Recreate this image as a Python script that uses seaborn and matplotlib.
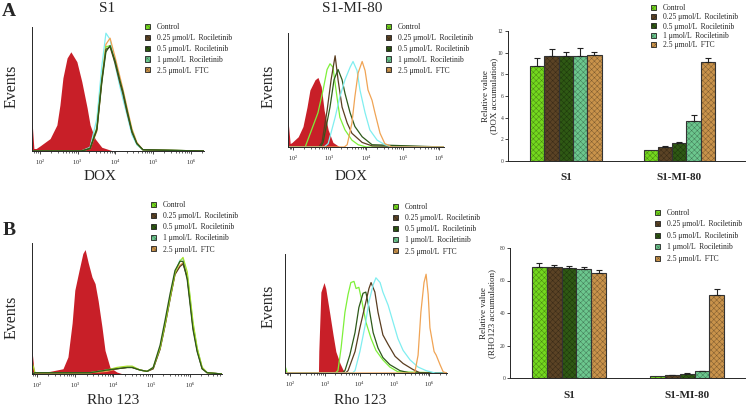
import matplotlib
matplotlib.use('Agg')
import matplotlib.pyplot as plt
from matplotlib.colors import to_rgba
from matplotlib.patches import Patch
from matplotlib.transforms import blended_transform_factory
import numpy as np
import pandas as pd
import seaborn as sns

W, H = 746, 409

TREATMENTS = ['Control', '0.25 μmol/L  Rociletinib', '0.5 μmol/L  Rociletinib',
              '1 μmol/L  Rociletinib', '2.5 μmol/L  FTC']
CELLS = ['S1', 'S1-MI-80']
BAR_COLORS = ['#74d81e', '#5b4325', '#2f5914', '#6cc78e', '#c9934b']
LINE_COLORS = ['#7ef03a', '#5a3d20', '#2e5a1a', '#80eef0', '#f0a455']
RED = '#c81f28'

# bar values (relative accumulation)
dox_s1 = [8.8, 9.7, 9.7, 9.65, 9.75]
dox_s1_err = [0.7, 0.65, 0.4, 0.8, 0.35]
dox_mi = [1.0, 1.3, 1.65, 3.65, 9.15]
dox_mi_err = [0.0, 0.12, 0.1, 0.6, 0.4]

rho_s1 = [68.5, 68.5, 68.0, 67.0, 64.5]
rho_s1_err = [2.0, 1.2, 0.7, 1.5, 2.0]
rho_mi = [1.0, 1.8, 2.7, 4.2, 50.8]
rho_mi_err = [0.0, 0.3, 0.3, 0.3, 4.0]

# flow histograms: x = log10 fluorescence, y = fraction of the axis height
# A / S1 (DOX)
a_s1_red_x = [1.79, 1.80, 1.84, 1.90, 2.00, 2.27, 2.45, 2.53, 2.61, 2.72, 2.82, 2.98, 3.11, 3.25, 3.33, 3.46, 3.64, 3.94, 6.35]
a_s1_red_y = [0.25, 0.20, 0.02, 0.02, 0.04, 0.10, 0.21, 0.37, 0.59, 0.75, 0.80, 0.72, 0.56, 0.35, 0.21, 0.10, 0.03, 0.0, 0.0]
a_s1_x = [1.79, 3.10, 3.33, 3.51, 3.64, 3.75, 3.86, 3.99, 4.12, 4.20, 4.31, 4.44, 4.57, 4.73, 6.35]
a_s1_ctrl = [0, 0, 0.02, 0.19, 0.58, 0.84, 0.85, 0.72, 0.56, 0.47, 0.32, 0.16, 0.06, 0.01, 0]
a_s1_r025 = [0, 0, 0.02, 0.18, 0.57, 0.82, 0.84, 0.71, 0.55, 0.46, 0.31, 0.15, 0.06, 0.01, 0]
a_s1_r05 = [0, 0, 0.02, 0.17, 0.55, 0.80, 0.85, 0.73, 0.57, 0.48, 0.33, 0.16, 0.06, 0.01, 0]
a_s1_r1 = [0, 0, 0.03, 0.26, 0.68, 0.95, 0.90, 0.70, 0.52, 0.42, 0.29, 0.13, 0.05, 0.01, 0]
a_s1_ftc = [0, 0, 0.02, 0.16, 0.56, 0.86, 0.91, 0.76, 0.60, 0.50, 0.35, 0.18, 0.07, 0.01, 0]

# A / S1-MI-80 (DOX)
a_mi_red_x = [1.86, 1.87, 1.92, 1.97, 2.14, 2.27, 2.38, 2.46, 2.60, 2.68, 2.77, 2.85, 2.96, 3.09, 3.28, 6.13]
a_mi_red_y = [0.26, 0.20, 0.03, 0.04, 0.09, 0.18, 0.35, 0.50, 0.59, 0.61, 0.53, 0.32, 0.15, 0.04, 0.0, 0.0]
a_mi_ctrl_x = [1.86, 2.33, 2.68, 2.82, 2.93, 3.01, 3.09, 3.20, 3.28, 3.42, 3.61, 3.78, 4.00, 6.13]
a_mi_ctrl_y = [0, 0, 0.30, 0.50, 0.68, 0.73, 0.70, 0.44, 0.26, 0.15, 0.06, 0.02, 0, 0]
a_mi_r025_x = [1.86, 2.70, 2.79, 2.93, 3.04, 3.15, 3.23, 3.34, 3.48, 3.61, 3.89, 4.16, 6.13]
a_mi_r025_y = [0, 0, 0.04, 0.32, 0.59, 0.80, 0.59, 0.35, 0.21, 0.12, 0.04, 0.01, 0]
a_mi_r05_x = [1.86, 2.75, 2.82, 3.01, 3.12, 3.23, 3.34, 3.42, 3.56, 3.69, 3.89, 4.16, 6.13]
a_mi_r05_y = [0, 0, 0.04, 0.35, 0.59, 0.68, 0.59, 0.47, 0.30, 0.18, 0.09, 0.02, 0]
a_mi_r1_x = [1.86, 2.85, 2.96, 3.15, 3.28, 3.42, 3.56, 3.64, 3.75, 3.83, 3.97, 4.10, 4.30, 4.51, 4.70, 6.13]
a_mi_r1_y = [0, 0, 0.03, 0.26, 0.44, 0.59, 0.70, 0.75, 0.67, 0.50, 0.30, 0.15, 0.06, 0.02, 0, 0]
a_mi_ftc_x = [1.86, 3.40, 3.48, 3.61, 3.69, 3.78, 3.89, 3.97, 4.05, 4.16, 4.24, 4.38, 4.51, 4.70, 6.13]
a_mi_ftc_y = [0, 0, 0.02, 0.21, 0.44, 0.65, 0.75, 0.67, 0.50, 0.41, 0.30, 0.12, 0.03, 0, 0]

# B / S1 (Rho 123)
b_s1_red_x = [1.87, 1.88, 1.93, 2.34, 2.68, 2.81, 2.92, 2.99, 3.10, 3.20, 3.26, 3.34, 3.44, 3.52, 3.60, 3.70, 3.78, 3.91, 4.09, 4.25, 6.84]
b_s1_red_y = [0.20, 0.15, 0.01, 0.02, 0.04, 0.13, 0.39, 0.64, 0.79, 0.92, 0.95, 0.85, 0.74, 0.69, 0.56, 0.36, 0.18, 0.05, 0.015, 0, 0]
b_s1_x = [1.87, 1.88, 1.95, 3.39, 3.83, 4.09, 4.36, 4.49, 4.70, 4.88, 5.04, 5.22, 5.35, 5.48, 5.61, 5.74, 5.82, 5.93, 6.01, 6.08, 6.19, 6.32, 6.45, 6.84]
b_s1_ctrl = [0, 0.08, 0.01, 0.01, 0.03, 0.05, 0.06, 0.06, 0.03, 0.02, 0.05, 0.20, 0.38, 0.58, 0.77, 0.86, 0.89, 0.78, 0.58, 0.40, 0.20, 0.05, 0.01, 0]
b_s1_r025 = [0, 0, 0.01, 0.01, 0.03, 0.04, 0.05, 0.05, 0.03, 0.02, 0.04, 0.19, 0.37, 0.57, 0.76, 0.82, 0.84, 0.74, 0.54, 0.36, 0.18, 0.04, 0.01, 0]
b_s1_r05 = [0, 0, 0.01, 0.01, 0.03, 0.04, 0.05, 0.05, 0.03, 0.02, 0.05, 0.22, 0.41, 0.61, 0.79, 0.86, 0.86, 0.72, 0.52, 0.34, 0.17, 0.04, 0.01, 0]
b_s1_r1 = [0, 0, 0.01, 0.01, 0.03, 0.04, 0.05, 0.05, 0.03, 0.02, 0.04, 0.19, 0.37, 0.57, 0.77, 0.87, 0.88, 0.77, 0.57, 0.39, 0.20, 0.05, 0.01, 0]
b_s1_ftc = [0, 0, 0.01, 0.01, 0.02, 0.04, 0.05, 0.05, 0.03, 0.02, 0.04, 0.19, 0.37, 0.57, 0.76, 0.83, 0.85, 0.75, 0.55, 0.37, 0.19, 0.05, 0.01, 0]

# B / S1-MI-80 (Rho 123)
b_mi_red_x = [2.82, 2.83, 2.89, 2.98, 3.03, 3.15, 3.24, 3.32, 3.44, 3.52, 3.61]
b_mi_red_y = [0, 0.18, 0.68, 0.76, 0.71, 0.49, 0.32, 0.18, 0.08, 0.03, 0]
b_mi_ctrl_x = [1.86, 1.87, 1.92, 3.30, 3.38, 3.47, 3.58, 3.67, 3.75, 3.84, 3.90, 3.98, 4.07, 4.18, 4.33, 4.47, 4.67, 4.87, 5.10, 6.51]
b_mi_ctrl_y = [0, 0.05, 0, 0, 0.02, 0.21, 0.51, 0.66, 0.76, 0.77, 0.71, 0.72, 0.60, 0.43, 0.29, 0.19, 0.11, 0.05, 0.01, 0]
b_mi_r025_x = [1.86, 3.60, 3.67, 3.87, 4.01, 4.16, 4.27, 4.33, 4.44, 4.53, 4.67, 4.82, 5.02, 5.25, 5.53, 5.74, 6.51]
b_mi_r025_y = [0, 0, 0.02, 0.18, 0.38, 0.57, 0.71, 0.76, 0.68, 0.51, 0.32, 0.24, 0.14, 0.08, 0.03, 0, 0]
b_mi_r05_x = [1.86, 3.50, 3.58, 3.72, 3.87, 3.98, 4.10, 4.18, 4.27, 4.39, 4.53, 4.67, 4.87, 5.16, 5.45, 6.51]
b_mi_r05_y = [0, 0, 0.02, 0.15, 0.34, 0.55, 0.67, 0.68, 0.55, 0.34, 0.21, 0.13, 0.07, 0.02, 0, 0]
b_mi_r1_x = [1.86, 3.80, 3.87, 4.01, 4.16, 4.27, 4.39, 4.47, 4.59, 4.67, 4.82, 4.96, 5.10, 5.25, 5.45, 5.68, 5.91, 6.17, 6.51]
b_mi_r1_y = [0, 0, 0.02, 0.18, 0.40, 0.60, 0.74, 0.80, 0.76, 0.68, 0.57, 0.43, 0.29, 0.19, 0.11, 0.05, 0.02, 0, 0]
b_mi_ftc_x = [1.86, 5.55, 5.59, 5.68, 5.76, 5.85, 5.91, 5.97, 6.02, 6.14, 6.20, 6.31, 6.40, 6.51]
b_mi_ftc_y = [0, 0, 0.01, 0.15, 0.51, 0.76, 0.83, 0.66, 0.38, 0.18, 0.15, 0.07, 0.01, 0]

sns.set_style('ticks')
plt.rcParams['font.family'] = ['Liberation Serif', 'DejaVu Serif']
plt.rcParams['mathtext.fontset'] = 'stix'
plt.rcParams['hatch.linewidth'] = 0.35

fig = plt.figure(figsize=(W / 100, H / 100), dpi=100)


def px_axes(left, top, right, bottom):
    return fig.add_axes([left / W, 1 - bottom / H, (right - left) / W, (bottom - top) / H])


def fig_text(px, py, s, **kw):
    fig.text(px / W, 1 - py / H, s, ha='center', va='center', **kw)


def texture(patch, color):
    # checkered look: hatch in a darker shade of the fill, outline stays dark
    patch.set_hatch('xxxxxx')
    shade = np.array(to_rgba(color)) * [0.62, 0.62, 0.62, 1]
    patch._hatch_color = tuple(shade)
    patch.stale = True


def add_legend(ax, left, top, spacing=0.38):
    handles = []
    for c in BAR_COLORS:
        p = Patch(facecolor=c, edgecolor='#222222', lw=0.6)
        texture(p, c)
        handles.append(p)
    ax.legend(handles, TREATMENTS, loc='upper left', bbox_to_anchor=(left / W, 1 - top / H),
              bbox_transform=fig.transFigure, frameon=False, fontsize=5.5,
              handlelength=0.65, handleheight=0.65, handletextpad=0.9,
              labelspacing=spacing, borderpad=0, borderaxespad=0)


def draw_hist(ax, xlim, red_x, red_y, curves, xlabel, label_xy, ylabel_xy):
    ax.fill_between(10 ** np.array(red_x), red_y, color=RED, lw=0, zorder=1)
    for x, y, c in curves:
        ax.plot(10 ** np.array(x), y, color=c, lw=0.9, zorder=2)
    ax.set_xscale('log')
    ax.set_xlim(10 ** xlim[0], 10 ** xlim[1])
    ax.set_ylim(0, 1)
    ax.set_yticks([])
    sns.despine(ax=ax)
    for s in ax.spines.values():
        s.set_linewidth(0.7)
    ax.tick_params(axis='x', which='major', length=2.5, width=0.6, pad=2, labelsize=4.5)
    ax.tick_params(axis='x', which='minor', length=1.3, width=0.5)
    ax.set_xlabel(xlabel, fontsize=11)
    ax.xaxis.set_label_coords(label_xy[0] / W, 1 - label_xy[1] / H, transform=fig.transFigure)
    ax.xaxis.label.set_va('center')
    ax.set_ylabel('Events', fontsize=11.5)
    ax.yaxis.set_label_coords(ylabel_xy[0] / W, 1 - ylabel_xy[1] / H, transform=fig.transFigure)
    ax.yaxis.label.set_va('center')


def draw_bars(ax, s1, s1_err, mi, mi_err, ymax, ystep, ylabel, xlim, label_x):
    df = pd.DataFrame({'cell': [CELLS[0]] * 5 + [CELLS[1]] * 5,
                       'treatment': TREATMENTS * 2,
                       'value': s1 + mi})
    sns.barplot(data=df, x='cell', y='value', hue='treatment', hue_order=TREATMENTS,
                palette=BAR_COLORS, saturation=1, width=0.63, edgecolor='#333333',
                linewidth=0.8, errorbar=None, legend=False, ax=ax)
    for cont, color, e1, e2 in zip(ax.containers, BAR_COLORS, s1_err, mi_err):
        for bar, e in zip(cont, (e1, e2)):
            texture(bar, color)
            if e > 0:
                ax.errorbar(bar.get_x() + bar.get_width() / 2, bar.get_height(),
                            yerr=[[0], [e]], fmt='none', ecolor='#222222',
                            elinewidth=0.8, capsize=2, capthick=0.8, zorder=3)
    ax.set_xlim(*xlim)
    ax.set_ylim(0, ymax)
    ax.set_yticks(np.arange(0, ymax + 0.1, ystep))
    sns.despine(ax=ax)
    for s in ax.spines.values():
        s.set_linewidth(0.7)
    ax.tick_params(axis='y', length=2, width=0.6, pad=1.5, labelsize=4, labelcolor='#333333')
    ax.tick_params(axis='x', length=0, pad=9, labelsize=8)
    for t in ax.get_xticklabels():
        t.set_fontweight('bold')
    ax.set_xlabel('')
    ax.set_ylabel(ylabel, fontsize=6.5, linespacing=1.1)
    ax.yaxis.set_label_coords(label_x / W, 0.5,
                              transform=blended_transform_factory(fig.transFigure, ax.transAxes))
    ax.yaxis.label.set_va('center')


# ---- row A ----
ax1 = px_axes(32, 27, 204, 151)
draw_hist(ax1, (1.79, 6.35), a_s1_red_x, a_s1_red_y,
          [(a_s1_x, a_s1_r1, LINE_COLORS[3]), (a_s1_x, a_s1_ftc, LINE_COLORS[4]),
           (a_s1_x, a_s1_ctrl, LINE_COLORS[0]), (a_s1_x, a_s1_r025, LINE_COLORS[1]),
           (a_s1_x, a_s1_r05, LINE_COLORS[2])], 'DOX', (100, 176), (12, 86))
add_legend(ax1, 145, 23)

ax2 = px_axes(288, 33, 444, 147)
draw_hist(ax2, (1.86, 6.13), a_mi_red_x, a_mi_red_y,
          [(a_mi_ctrl_x, a_mi_ctrl_y, LINE_COLORS[0]), (a_mi_r025_x, a_mi_r025_y, LINE_COLORS[1]),
           (a_mi_r05_x, a_mi_r05_y, LINE_COLORS[2]), (a_mi_r1_x, a_mi_r1_y, LINE_COLORS[3]),
           (a_mi_ftc_x, a_mi_ftc_y, LINE_COLORS[4])], 'DOX', (351, 176), (269, 86))
add_legend(ax2, 386, 23)

ax3 = px_axes(508, 31, 745, 161)
draw_bars(ax3, dox_s1, dox_s1_err, dox_mi, dox_mi_err, 12, 2,
          'Relative value\n(DOX accumulation)', (-0.51, 1.58), 490)
add_legend(ax3, 651, 4, spacing=0.17)

# ---- row B ----
ax4 = px_axes(32, 243, 222, 374)
draw_hist(ax4, (1.87, 6.84), b_s1_red_x, b_s1_red_y,
          [(b_s1_x, b_s1_r1, LINE_COLORS[3]), (b_s1_x, b_s1_ftc, LINE_COLORS[4]),
           (b_s1_x, b_s1_r025, LINE_COLORS[1]), (b_s1_x, b_s1_ctrl, '#a8e02a'),
           (b_s1_x, b_s1_r05, LINE_COLORS[2])], 'Rho 123', (113, 401), (12, 317))
add_legend(ax4, 151, 201, spacing=0.41)

ax5 = px_axes(285, 254, 447, 373)
draw_hist(ax5, (1.86, 6.51), b_mi_red_x, b_mi_red_y,
          [(b_mi_ctrl_x, b_mi_ctrl_y, LINE_COLORS[0]), (b_mi_r05_x, b_mi_r05_y, LINE_COLORS[2]),
           (b_mi_r025_x, b_mi_r025_y, LINE_COLORS[1]), (b_mi_r1_x, b_mi_r1_y, LINE_COLORS[3]),
           (b_mi_ftc_x, b_mi_ftc_y, LINE_COLORS[4])], 'Rho 123', (360, 401), (269, 306))
add_legend(ax5, 393, 203, spacing=0.41)

ax6 = px_axes(510, 248, 745, 378)
draw_bars(ax6, rho_s1, rho_s1_err, rho_mi, rho_mi_err, 80, 20,
          'Relative value\n(RHO123 accumulation)', (-0.50, 1.49), 488)
add_legend(ax6, 655, 209, spacing=0.45)

fig_text(107, 8, 'S1', fontsize=11)
fig_text(352, 8, 'S1-MI-80', fontsize=11)
fig_text(9, 12, 'A', fontsize=14, fontweight='bold')
fig_text(9, 230, 'B', fontsize=14, fontweight='bold')

fig.savefig('out.png', dpi=100)
